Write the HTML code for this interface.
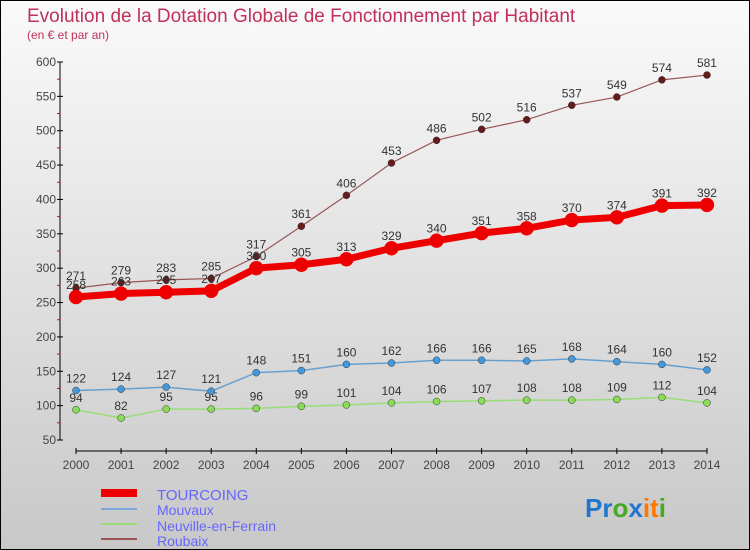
<!DOCTYPE html>
<html><head><meta charset="utf-8"><style>
body{margin:0}
#c{width:748px;height:548px;border:1px solid #000;background:linear-gradient(#fafafa,#c8c8c8);position:relative;font-family:"Liberation Sans",sans-serif;overflow:hidden}
svg text{font-family:"Liberation Sans",sans-serif}
</style></head><body>
<div id="c">
<svg id="s" width="748" height="548">
<text x="26" y="21" font-size="19" fill="#c0305a">Evolution de la Dotation Globale de Fonctionnement par Habitant</text>
<text x="26" y="38" font-size="12" fill="#c0305a">(en € et par an)</text>
<g id="g"></g>
<g>
<rect x="100" y="488" width="36" height="8" fill="#e00"/>
<text x="156" y="499" font-size="15" fill="#6666ff">TOURCOING</text>
<rect x="100" y="507" width="36" height="2" fill="#7aaad8"/>
<text x="156" y="514" font-size="14" fill="#6666ff">Mouvaux</text>
<rect x="100" y="522" width="36" height="2" fill="#99dd77"/>
<text x="156" y="530" font-size="14" fill="#6666ff">Neuville-en-Ferrain</text>
<rect x="100" y="537" width="36" height="2" fill="#995555"/>
<text x="156" y="545" font-size="14" fill="#6666ff">Roubaix</text>
</g>
<text x="584" y="516" font-size="26" font-weight="bold"><tspan fill="#2277cc">Pr</tspan><tspan fill="#44aa22">o</tspan><tspan fill="#2277cc">x</tspan><tspan fill="#ff7700">it</tspan><tspan fill="#44aa22">i</tspan></text>
</svg>
</div>
<script>
const years=["2000","2001","2002","2003","2004","2005","2006","2007","2008","2009","2010","2011","2012","2013","2014"];
const yTicks=[50,100,150,200,250,300,350,400,450,500,550,600];
const tourcoing=[258,263,265,267,300,305,313,329,340,351,358,370,374,391,392];
const roubaix=[271,279,283,285,317,361,406,453,486,502,516,537,549,574,581];
const mouvaux=[122,124,127,121,148,151,160,162,166,166,165,168,164,160,152];
const neuville=[94,82,95,95,96,99,101,104,106,107,108,108,109,112,104];
const NS="http://www.w3.org/2000/svg";
const g=document.getElementById('g');
const X=i=>75+i*45.07, Y=v=>439-(v-50)*0.6873;
function mk(t,a,p){const e=document.createElementNS(NS,t);for(const k in a)e.setAttribute(k,a[k]);(p||g).appendChild(e);return e;}
let e;
e=mk('line',{x1:59,y1:61,x2:59,y2:439,stroke:'#000'});


e=mk('line',{x1:75,y1:450,x2:706,y2:450,stroke:'#000'});


yTicks.forEach(v=>{
 mk('line',{x1:56,x2:62,y1:Y(v),y2:Y(v),stroke:'#000'});
 if(v<600) mk('line',{x1:56,x2:59,y1:Y(v+25),y2:Y(v+25),stroke:'#e00'});
 e=mk('text',{x:55,y:Y(v)+4,'font-size':12,'text-anchor':'end',fill:'#444'});e.textContent=v;
 
 
});
years.forEach((y,i)=>{
 mk('line',{x1:X(i),x2:X(i),y1:447,y2:453,stroke:'#000'});
 e=mk('text',{x:X(i),y:468,'font-size':12,'text-anchor':'middle',fill:'#444'});e.textContent=y;
 
 
});
function series(d,col,dot,w,r,name,fs){
 const pts=d.map((v,i)=>X(i)+','+Y(v)).join(' ');
 e=mk('polyline',{points:pts,fill:'none',stroke:col,'stroke-width':w});
 
 
 d.forEach((v,i)=>{
  e=mk('circle',{cx:X(i),cy:Y(v),r:r,fill:dot,stroke:col==='#e00'?'#e00':'#333','stroke-width':0.5});
  
  
 });
 d.forEach((v,i)=>{
  e=mk('text',{x:X(i),y:Y(v)-8,'font-size':fs,'text-anchor':'middle',fill:'#333'});e.textContent=v;
  
  
 });
}
series(neuville,'#99dd77','#88dd55',1.5,3.5,'neuville',12);
series(mouvaux,'#66a0d0','#4499dd',1.5,3.5,'mouvaux',12);
series(roubaix,'#995555','#661a1a',1.2,3.5,'roubaix',12);
series(tourcoing,'#e00','#e00',7,7,'tourcoing',12);
</script>
</body></html>
